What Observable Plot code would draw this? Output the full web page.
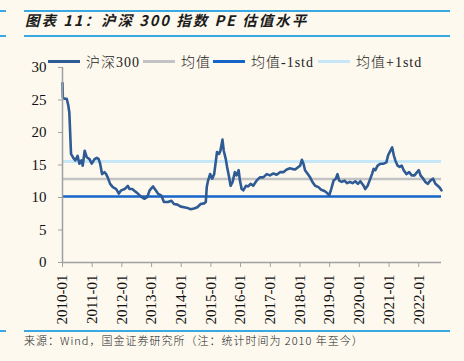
<!DOCTYPE html>
<html><head><meta charset="utf-8">
<script src="https://cdn.jsdelivr.net/npm/d3@7"></script>
<script src="https://cdn.jsdelivr.net/npm/@observablehq/plot@0.6"></script>
<style>
body{margin:0;background:#FDF9EF;width:464px;height:361px;overflow:hidden;position:relative;font-family:"Noto Sans CJK SC",sans-serif;}
.rule{position:absolute;height:2px;background:#3AA9E2;}
#title{position:absolute;left:25px;top:13px;font-size:14.5px;letter-spacing:2px;font-weight:bold;font-style:italic;color:#1c1c1c;white-space:nowrap;line-height:1;}
#caption{position:absolute;left:24px;top:335px;font-size:11px;letter-spacing:1px;font-weight:300;color:#222;white-space:nowrap;line-height:1;}
.leg{position:absolute;top:53px;height:16px;display:flex;align-items:center;font-family:"Liberation Serif","Noto Sans CJK SC",serif;font-size:14px;font-weight:300;letter-spacing:1px;color:#222;white-space:nowrap;z-index:2;}
.sw{width:32px;height:3px;margin-right:6px;}
#chart{position:absolute;left:0;top:0;z-index:1;}
</style></head>
<body>
<div class="rule" style="left:0;width:6px;top:10px"></div>
<div class="rule" style="left:24px;width:426px;top:10px"></div>
<div id="title">图表 11：沪深 300 指数 PE 估值水平</div>
<div class="rule" style="left:0;width:6px;top:35px"></div>
<div class="rule" style="left:24px;width:426px;top:35px"></div>
<div id="legend"></div>
<div id="chart"></div>
<div class="rule" style="left:0;width:6px;top:330px"></div>
<div class="rule" style="left:24px;width:426px;top:330px"></div>
<div id="caption">来源：Wind，国金证券研究所（注：统计时间为 2010 年至今）</div>
<script>
const dates = [
"2010-01-01","2010-01-05","2010-01-25","2010-02-22","2010-03-13","2010-03-26","2010-04-16","2010-05-14","2010-06-08","2010-07-06",
"2010-07-27","2010-08-21","2010-09-07","2010-10-01","2010-10-26","2010-11-29","2010-12-27","2011-01-30","2011-02-27","2011-03-22",
"2011-04-09","2011-05-03","2011-06-01","2011-06-22","2011-07-11","2011-08-10","2011-09-12","2011-10-24","2011-11-25","2011-12-24",
"2012-02-04","2012-03-15","2012-04-05","2012-05-08","2012-06-06","2012-07-16","2012-08-28","2012-10-07","2012-11-10","2012-12-08",
"2013-01-19","2013-02-21","2013-03-20","2013-05-01","2013-06-02","2013-07-21","2013-09-02","2013-10-04","2013-11-15","2013-12-26",
"2014-02-05","2014-03-17","2014-04-27","2014-06-07","2014-07-18","2014-08-28","2014-10-09","2014-10-30","2014-11-11","2014-11-27",
"2014-12-22","2015-01-16","2015-02-10","2015-03-17","2015-04-11","2015-04-28","2015-05-23","2015-06-08","2015-07-03","2015-07-19",
"2015-08-13","2015-08-31","2015-09-25","2015-10-23","2015-11-13","2015-12-08","2015-12-24","2016-01-14","2016-02-03","2016-03-07",
"2016-04-04","2016-05-03","2016-06-05","2016-07-16","2016-08-26","2016-10-06","2016-11-18","2016-12-28","2017-02-08","2017-03-20",
"2017-04-30","2017-06-10","2017-07-21","2017-09-01","2017-09-22","2017-11-02","2017-12-12","2018-01-03","2018-01-24","2018-02-13",
"2018-03-04","2018-04-07","2018-05-05","2018-06-03","2018-07-06","2018-08-16","2018-09-19","2018-10-29","2018-12-01","2018-12-26",
"2019-01-20","2019-02-18","2019-03-18","2019-04-07","2019-04-28","2019-05-31","2019-07-02","2019-08-05","2019-09-07","2019-10-09",
"2019-11-12","2019-12-15","2020-01-13","2020-02-23","2020-03-14","2020-04-12","2020-05-06","2020-06-05","2020-06-25","2020-07-16",
"2020-08-13","2020-09-16","2020-10-27","2020-11-29","2020-12-20","2021-01-18","2021-02-08","2021-02-28","2021-03-19","2021-04-16",
"2021-05-11","2021-06-05","2021-06-30","2021-08-02","2021-09-05","2021-10-07","2021-11-10","2021-12-12","2022-01-02","2022-01-23",
"2022-02-25","2022-03-24","2022-04-21","2022-05-24","2022-06-27","2022-07-25","2022-08-23","2022-09-17","2022-10-08"
];
const pe = [
27.6,25.4,25.2,25.2,24.2,23.1,16.7,16.1,15.7,16.4,
15.2,15.7,14.9,17.2,16.2,15.9,15.2,15.9,16.1,15.9,
15.2,13.6,13.9,13.6,13.1,12.1,11.6,11.3,10.6,11.1,
11.3,11.8,11.3,11.3,11.0,10.6,10.1,9.8,10.1,11.1,
11.7,11.1,10.6,10.3,9.3,9.3,9.5,9.0,8.9,8.6,
8.5,8.4,8.2,8.3,8.5,9.0,9.1,9.3,11.6,12.6,
13.6,12.9,13.6,17.0,16.7,17.2,18.9,17.2,15.9,14.7,
13.1,11.8,12.4,13.9,13.4,14.2,12.6,11.3,11.1,11.8,
11.7,12.1,11.8,12.6,13.1,13.1,13.6,13.4,13.7,13.5,
13.9,13.9,14.3,14.5,14.4,14.3,14.7,14.9,15.8,15.2,
14.2,13.6,13.1,12.4,11.8,11.6,11.2,11.0,10.7,10.3,
11.3,12.6,12.9,13.6,12.6,12.4,12.6,12.2,12.4,12.2,
12.5,12.1,12.5,11.8,11.3,11.8,12.6,13.6,14.4,14.2,
14.9,15.2,15.2,15.4,16.5,17.2,17.7,16.5,15.7,14.9,
14.7,14.9,14.2,13.6,13.9,13.4,13.4,13.9,14.2,13.4,
12.9,12.4,12.1,12.6,12.9,12.1,11.8,11.5,11.1
];
const meanPE = 12.85;
const stdPE = 2.7;
const yTicks = [0,5,10,15,20,25,30];
const xTickLabels = ["2010-01","2011-01","2012-01","2013-01","2014-01","2015-01","2016-01","2017-01","2018-01","2019-01","2020-01","2021-01","2022-01"];
const legendItems = [
  {label:"沪深300", color:"#2F5B95", left:48},
  {label:"均值", color:"#C3C3C3", left:143},
  {label:"均值-1std", color:"#1565C8", left:213},
  {label:"均值+1std", color:"#C6E7F7", left:318}
];

const data = dates.map((d,i)=>({date:new Date(d), pe:pe[i]}));
const xTicks = xTickLabels.map(s=>new Date(s+"-01"));
const x0 = new Date(dates[0]);
const x1 = new Date(dates[dates.length-1]);

const chart = Plot.plot({
  width:464, height:361,
  marginTop:67, marginBottom:99, marginLeft:62, marginRight:23,
  style:{fontFamily:"'Liberation Serif', serif", fontSize:"15px", background:"transparent", color:"#111"},
  x:{type:"utc", domain:[x0,x1]},
  y:{domain:[0,30]},
  marks:[
    Plot.ruleY([meanPE+stdPE],{stroke:"#C6E7F7",strokeWidth:3}),
    Plot.ruleY([meanPE],{stroke:"#C3C3C3",strokeWidth:2.5}),
    Plot.ruleY([meanPE-stdPE],{stroke:"#1565C8",strokeWidth:2.5}),
    Plot.line(data,{x:"date",y:"pe",stroke:"#2F5B95",strokeWidth:2.6,strokeLinejoin:"round"}),
    Plot.axisY({ticks:yTicks, tickSize:4, tickPadding:12, stroke:"#A0A0A0", fill:"#111", fontSize:15, label:null}),
    Plot.axisX({ticks:xTicks, tickFormat:d3.utcFormat("%Y-%m"), tickRotate:-90, tickSize:5, tickPadding:7, stroke:"#A0A0A0", fill:"#111", fontSize:15, label:null}),
    Plot.ruleX([x0],{stroke:"#A0A0A0",strokeWidth:1.5}),
    Plot.ruleY([0],{stroke:"#A0A0A0",strokeWidth:1.5})
  ]
});
document.getElementById("chart").appendChild(chart);

const leg = document.getElementById("legend");
legendItems.forEach(it=>{
  const div = document.createElement("div");
  div.className = "leg";
  div.style.left = it.left + "px";
  const sw = document.createElement("span");
  sw.className = "sw";
  sw.style.background = it.color;
  const tx = document.createElement("span");
  tx.textContent = it.label;
  div.appendChild(sw); div.appendChild(tx);
  leg.appendChild(div);
});
</script>
</body></html>
